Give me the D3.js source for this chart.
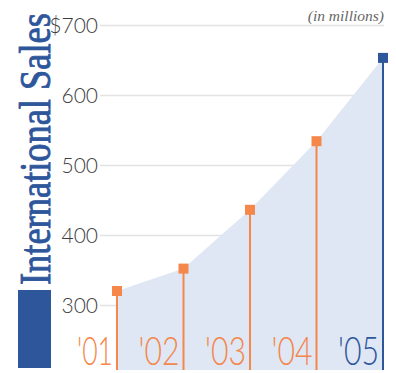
<!DOCTYPE html>
<html>
<head>
<meta charset="utf-8">
<script src="https://cdn.jsdelivr.net/npm/d3@7"></script>
<style>
  html, body { margin: 0; padding: 0; background: #fff; }
  svg { display: block; }
</style>
</head>
<body>
<svg id="chart" width="396" height="373"></svg>
<script>
// International sales, in millions of dollars
const years = ["'01", "'02", "'03", "'04", "'05"];
const sales = [320, 352, 436, 534, 653];
const tickValues = [300, 400, 500, 600, 700];
const tickLabels = ["300", "400", "500", "600", "$700"];

const orange = "#F5874A";
const blue = "#2E569B";
const fillBlue = "#DFE6F4";

const svg = d3.select("#chart");
const bottom = 370;

const x = d3.scalePoint().domain(years).range([117, 383]);
const y = d3.scaleLinear().domain([300, 700]).range([305, 25]);

const data = years.map((yr, i) => ({ year: yr, value: sales[i], last: i === years.length - 1 }));

// Gridlines and value labels
const yAxis = d3.axisLeft(y)
  .tickValues(tickValues)
  .tickFormat((d, i) => tickLabels[i])
  .tickSize(-284)
  .tickPadding(2);

const gy = svg.append("g")
  .attr("transform", "translate(100,0)")
  .call(yAxis);
gy.select(".domain").remove();
gy.selectAll(".tick line").attr("stroke", "#e3e3e3").attr("stroke-width", 1.5);
gy.selectAll(".tick text")
  .attr("fill", "#3d3d3d")
  .attr("font-family", "Lato, 'Open Sans', sans-serif")
  .attr("font-weight", 300)
  .attr("font-size", 21)
  .attr("dy", "0.34em");

// Shaded area under the sales curve
const area = d3.area()
  .x(d => x(d.year))
  .y0(bottom)
  .y1(d => y(d.value));

svg.append("path")
  .datum(data)
  .attr("d", area)
  .attr("fill", fillBlue);

// Stems
svg.append("g").selectAll("line")
  .data(data)
  .join("line")
  .attr("x1", d => x(d.year))
  .attr("x2", d => x(d.year))
  .attr("y1", d => y(d.value))
  .attr("y2", bottom)
  .attr("stroke", d => d.last ? blue : orange)
  .attr("stroke-width", 2);

// Square markers
const m = 10;
svg.append("g").selectAll("rect")
  .data(data)
  .join("rect")
  .attr("x", d => x(d.year) - m / 2)
  .attr("y", d => y(d.value) - m / 2)
  .attr("width", m)
  .attr("height", m)
  .attr("fill", d => d.last ? blue : orange);

// Year labels
svg.append("g").selectAll("text")
  .data(data)
  .join("text")
  .attr("x", d => x(d.year) - 4)
  .attr("y", 364.5)
  .attr("text-anchor", "end")
  .attr("font-family", "Lato, 'Open Sans', sans-serif")
  .attr("font-weight", 300)
  .attr("font-size", 39)
  .attr("textLength", d => d.year === "'01" ? 36 : 41)
  .attr("lengthAdjust", "spacingAndGlyphs")
  .attr("fill", d => d.last ? blue : orange)
  .text(d => d.year);

// Units note
svg.append("text")
  .attr("x", 384)
  .attr("y", 21)
  .attr("text-anchor", "end")
  .attr("font-family", "'Liberation Serif', serif")
  .attr("font-style", "italic")
  .attr("font-size", 15.5)
  .attr("fill", "#666")
  .text("(in millions)");

// Title block
svg.append("rect")
  .attr("x", 18)
  .attr("y", 290)
  .attr("width", 33)
  .attr("height", 78)
  .attr("fill", blue);

// Vertical title, squeezed along its reading direction to a fixed length
const titleLength = 272;
const title = svg.append("text")
  .attr("font-family", "'Liberation Serif', serif")
  .attr("font-size", 44)
  .attr("fill", blue)
  .attr("stroke", blue)
  .attr("stroke-width", 0.9)
  .text("International Sales");
const natural = title.node().getComputedTextLength();
title.attr("transform", `translate(50,285) rotate(-90) scale(${titleLength / natural},1)`);
</script>
</body>
</html>
